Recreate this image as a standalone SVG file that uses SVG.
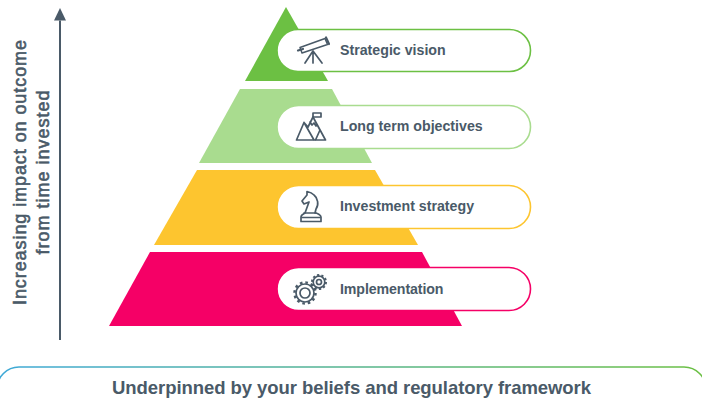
<svg xmlns="http://www.w3.org/2000/svg" width="702" height="404" viewBox="0 0 702 404">
<style>
.t{font-family:"Liberation Sans",Arial,sans-serif;font-weight:700;fill:#4a5a68}
.l{font-size:14.200px}
.v{font-size:18px;font-weight:400;stroke:#4a5a68;stroke-width:.6}
.i{fill:none;stroke:#4a5a68;stroke-width:1.700;stroke-linejoin:round;stroke-linecap:round}
.p{fill:#fff;stroke-width:1.600}
</style>
<defs>
<linearGradient id="g" x1="0" x2="1" y1="0" y2="0"><stop offset="0" stop-color="#3fa9d8"/><stop offset="1" stop-color="#6cc043"/></linearGradient>
</defs>
<rect width="702" height="404" fill="#fff"/>
<g id="connectors"><path d="M60 340V20.500" stroke="#4a5a68" stroke-width="2" fill="none"/><path d="M60 8L66 20.500H54Z" fill="#4a5a68"/></g>
<g id="axis-label" class="t v" transform="rotate(-90)">
<text x="-172.500" y="26" text-anchor="middle" textLength="265" lengthAdjust="spacing">Increasing impact on outcome</text>
<text x="-172.500" y="49" text-anchor="middle" textLength="164" lengthAdjust="spacing">from time invested</text>
</g>
<g id="level-1">
<path d="M286 7L328 81H245Z" fill="#6cc043"/>
<rect class="p" x="277" y="29.500" width="253.500" height="42" rx="21" stroke="#6cc043"/>
<g class="i"><path d="M300 47.500L325 38.500L327.500 44.500L302 53Z" stroke-width="1.500"/><path d="M298 50.500L303 49M326 37.500L329 44" stroke-width="2.200"/><path d="M313 51L305 63M313 51V63M313 51L322 63"/></g>
<text class="t l" x="340" y="55">Strategic vision</text>
</g>
<g id="level-2">
<path d="M240 89H332L372 163H199Z" fill="#a9dc8f"/>
<rect class="p" x="277" y="105.500" width="253.500" height="43" rx="21.500" stroke="#a9dc8f"/>
<g class="i"><path d="M296.500 140H325.500L313 117L308 127L304 122.500ZM304 122.500L314 140M313 117L320 130L315.500 140M310 122L312 125L314 123L316 126"/><path d="M313 117V113H321V117H314"/></g>
<text class="t l" x="340" y="131">Long term objectives</text>
</g>
<g id="level-3">
<path d="M197 170H375L418 245H154Z" fill="#fdc52f"/>
<rect class="p" x="277" y="185.500" width="253.500" height="43" rx="21.500" stroke="#fdc52f"/>
<g class="i"><path d="M301 221.500H321V217C321 215 317 213 315 213L316 209C319 205 318 198 314 195C312 193 309 192 307 191.500L307 195L302 201L304 204L309 202L305 213C303 214 301 215 301 217Z"/><path d="M304 213H316M302 217.500H320"/></g>
<text class="t l" x="340" y="211">Investment strategy</text>
</g>
<g id="level-4">
<path d="M150 252H422L462 326H109Z" fill="#f50066"/>
<rect class="p" x="277" y="267.500" width="253.500" height="43" rx="21.500" stroke="#f50066"/>
<g class="i"><circle cx="305" cy="293" r="9"/><circle cx="305" cy="293" r="10.500" stroke-width="2.500" stroke-dasharray="2.600 2.900" stroke-linecap="butt"/><circle cx="305" cy="293" r="5"/><circle cx="319" cy="282" r="5.800"/><circle cx="319" cy="282" r="7" stroke-width="2" stroke-dasharray="2.200 2.200" stroke-linecap="butt"/><circle cx="319" cy="282" r="2.500"/></g>
<text class="t l" x="340" y="294" textLength="103.500" lengthAdjust="spacing">Implementation</text>
</g>
<g id="foundation">
<rect x="-3" y="367" width="709" height="60" rx="22" fill="#fff" stroke="url(#g)" stroke-width="1.600"/>
<text class="t" x="351.500" y="393.500" text-anchor="middle" font-size="18.500" textLength="479" lengthAdjust="spacing">Underpinned by your beliefs and regulatory framework</text>
</g>
</svg>
